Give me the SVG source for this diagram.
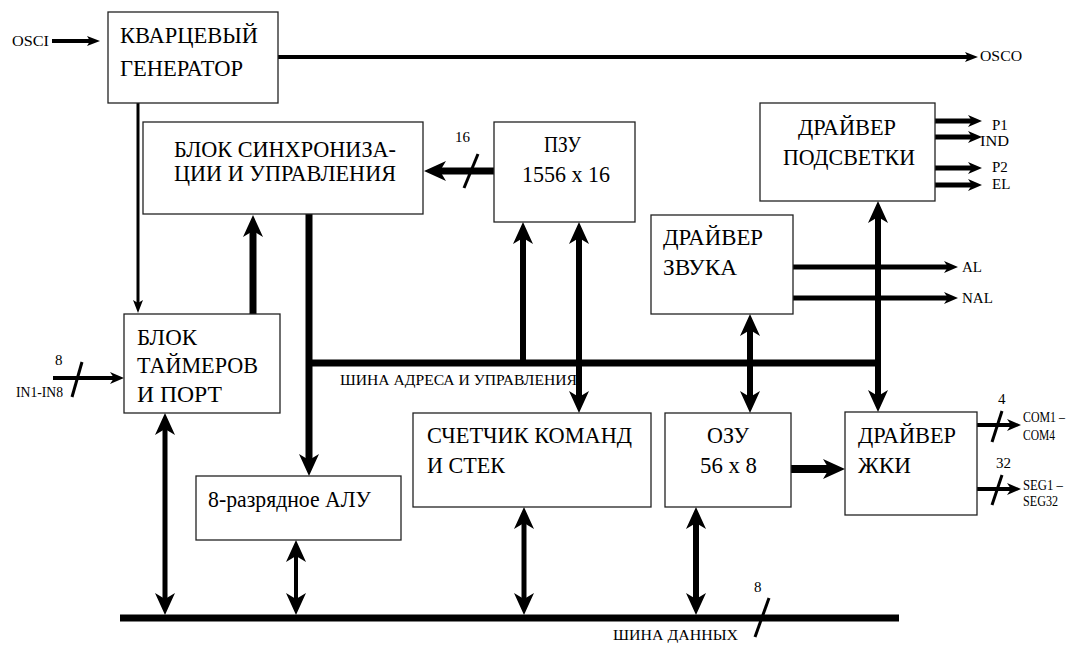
<svg xmlns="http://www.w3.org/2000/svg" width="1083" height="645" viewBox="0 0 1083 645">
<style>
.box{fill:#fff;stroke:#222;stroke-width:1.3}
text{font-family:'Liberation Serif','Times New Roman','Tinos','DejaVu Serif','Noto Serif','FreeSerif','Nimbus Roman','PT Serif',serif;fill:#000}
.t{font-size:24px}
.s{font-size:15px}
.ln{stroke:#000;fill:none}
.m{text-anchor:middle}
</style>
<defs>
<marker id="big" markerUnits="userSpaceOnUse" markerWidth="22" markerHeight="20" refX="6" refY="10" orient="auto-start-reverse" viewBox="0 0 22 20"><path d="M0,0 L22,10 L0,20 L6,10 z" fill="#000"/></marker>
<marker id="mid" markerUnits="userSpaceOnUse" markerWidth="14" markerHeight="12" refX="4" refY="6" orient="auto-start-reverse" viewBox="0 0 14 12"><path d="M0,0 L14,6 L0,12 L4,6 z" fill="#000"/></marker>
<marker id="sm" markerUnits="userSpaceOnUse" markerWidth="13" markerHeight="10" refX="3" refY="5" orient="auto-start-reverse" viewBox="0 0 13 10"><path d="M0,0 L13,5 L0,10 L3,5 z" fill="#000"/></marker>
</defs>
<rect width="1083" height="645" fill="#fff"/>

<g id="connectors">
<line class="ln" x1="52" y1="41" x2="90" y2="41" stroke-width="4" marker-end="url(#sm)"/>
<line class="ln" x1="278" y1="57" x2="968" y2="57" stroke-width="4" marker-end="url(#sm)"/>
<line class="ln" x1="138" y1="103" x2="138" y2="303" stroke-width="3" marker-end="url(#sm)"/>
<line class="ln" x1="494" y1="171" x2="440" y2="171" stroke-width="7" marker-end="url(#big)"/>
<line class="ln" x1="478" y1="154" x2="464" y2="188" stroke-width="3"/>
<line class="ln" x1="253" y1="314" x2="253" y2="231" stroke-width="7" marker-end="url(#big)"/>
<line class="ln" x1="309" y1="214" x2="309" y2="460" stroke-width="7" marker-end="url(#big)"/>
<line class="ln" x1="306" y1="363" x2="881" y2="363" stroke-width="7"/>
<line class="ln" x1="523" y1="366" x2="523" y2="238" stroke-width="6" marker-end="url(#big)"/>
<line class="ln" x1="579" y1="238" x2="579" y2="397" stroke-width="6" marker-start="url(#big)" marker-end="url(#big)"/>
<line class="ln" x1="750" y1="330" x2="750" y2="397" stroke-width="6" marker-start="url(#big)" marker-end="url(#big)"/>
<line class="ln" x1="878" y1="217" x2="878" y2="396" stroke-width="6" marker-start="url(#big)" marker-end="url(#big)"/>
<line class="ln" x1="935" y1="121" x2="972" y2="121" stroke-width="5" marker-end="url(#mid)"/>
<line class="ln" x1="935" y1="137" x2="972" y2="137" stroke-width="5" marker-end="url(#mid)"/>
<line class="ln" x1="935" y1="168" x2="972" y2="168" stroke-width="5" marker-end="url(#mid)"/>
<line class="ln" x1="935" y1="185" x2="972" y2="185" stroke-width="5" marker-end="url(#mid)"/>
<line class="ln" x1="793" y1="267" x2="948" y2="267" stroke-width="5" marker-end="url(#mid)"/>
<line class="ln" x1="793" y1="298" x2="948" y2="298" stroke-width="5" marker-end="url(#mid)"/>
<line class="ln" x1="53" y1="378" x2="114" y2="378" stroke-width="4" marker-end="url(#mid)"/>
<line class="ln" x1="82" y1="362" x2="72" y2="397" stroke-width="3"/>
<line class="ln" x1="791" y1="469" x2="829" y2="469" stroke-width="8" marker-end="url(#big)"/>
<line class="ln" x1="977" y1="425" x2="1011" y2="425" stroke-width="4" marker-end="url(#mid)"/>
<line class="ln" x1="1002" y1="411" x2="992" y2="442" stroke-width="3"/>
<line class="ln" x1="977" y1="489" x2="1011" y2="489" stroke-width="4" marker-end="url(#mid)"/>
<line class="ln" x1="1002" y1="475" x2="992" y2="505" stroke-width="3"/>
<line class="ln" x1="120" y1="618" x2="899" y2="618" stroke-width="7"/>
<line class="ln" x1="165" y1="429" x2="165" y2="599" stroke-width="5" marker-start="url(#big)" marker-end="url(#big)"/>
<line class="ln" x1="296" y1="556" x2="296" y2="599" stroke-width="4" marker-start="url(#big)" marker-end="url(#big)"/>
<line class="ln" x1="524" y1="523" x2="524" y2="599" stroke-width="5" marker-start="url(#big)" marker-end="url(#big)"/>
<line class="ln" x1="696" y1="523" x2="696" y2="599" stroke-width="6" marker-start="url(#big)" marker-end="url(#big)"/>
<line class="ln" x1="769" y1="598" x2="755" y2="637" stroke-width="3"/>
</g>

<g id="labels">
<text class="s" x="12" y="46" textLength="37" lengthAdjust="spacingAndGlyphs">OSCI</text>
<text class="s" x="980" y="61" textLength="42" lengthAdjust="spacingAndGlyphs">OSCO</text>
<text class="s" x="455" y="142">16</text>
<text class="s" x="992" y="130">P1</text>
<text class="s" x="980" y="146" textLength="29" lengthAdjust="spacingAndGlyphs">IND</text>
<text class="s" x="992" y="172">P2</text>
<text class="s" x="992" y="189">EL</text>
<text class="s" x="962" y="272">AL</text>
<text class="s" x="962" y="303">NAL</text>
<text class="s" x="55" y="365">8</text>
<text class="s" x="16" y="397" textLength="47" lengthAdjust="spacingAndGlyphs">IN1-IN8</text>
<text class="s" x="340" y="385" textLength="237" lengthAdjust="spacingAndGlyphs">ШИНА АДРЕСА И УПРАВЛЕНИЯ</text>
<text class="s" x="998" y="404">4</text>
<text class="s" x="1023" y="422" textLength="42" lengthAdjust="spacingAndGlyphs">COM1 –</text>
<text class="s" x="1023" y="440" textLength="32" lengthAdjust="spacingAndGlyphs">COM4</text>
<text class="s" x="996" y="468">32</text>
<text class="s" x="1023" y="490" textLength="40" lengthAdjust="spacingAndGlyphs">SEG1 –</text>
<text class="s" x="1023" y="506" textLength="35" lengthAdjust="spacingAndGlyphs">SEG32</text>
<text class="s" x="754" y="592">8</text>
<text class="s" x="613" y="640" textLength="125" lengthAdjust="spacingAndGlyphs">ШИНА ДАННЫХ</text>
</g>

<g id="osc"><rect class="box" x="108" y="12" width="170" height="91"/>
<text class="t" x="120" y="43" textLength="138" lengthAdjust="spacingAndGlyphs">КВАРЦЕВЫЙ</text><text class="t" x="120" y="76" textLength="123" lengthAdjust="spacingAndGlyphs">ГЕНЕРАТОР</text></g>

<g id="sync"><rect class="box" x="143" y="122" width="280" height="92"/>
<text class="t" x="174" y="157" textLength="222" lengthAdjust="spacingAndGlyphs">БЛОК СИНХРОНИЗА-</text><text class="t" x="174" y="181" textLength="222" lengthAdjust="spacingAndGlyphs">ЦИИ И УПРАВЛЕНИЯ</text></g>

<g id="rom"><rect class="box" x="494" y="122" width="141" height="100"/>
<text class="t" x="544" y="152" textLength="37" lengthAdjust="spacingAndGlyphs">ПЗУ</text><text class="t" x="522" y="182" textLength="88" lengthAdjust="spacingAndGlyphs">1556 x 16</text></g>

<g id="backlight"><rect class="box" x="760" y="103" width="175" height="98"/>
<text class="t" x="798" y="135" textLength="98" lengthAdjust="spacingAndGlyphs">ДРАЙВЕР</text><text class="t" x="783" y="165" textLength="132" lengthAdjust="spacingAndGlyphs">ПОДСВЕТКИ</text></g>

<g id="sound"><rect class="box" x="651" y="215" width="142" height="99"/>
<text class="t" x="663" y="245" textLength="100" lengthAdjust="spacingAndGlyphs">ДРАЙВЕР</text><text class="t" x="663" y="275" textLength="74" lengthAdjust="spacingAndGlyphs">ЗВУКА</text></g>

<g id="timers"><rect class="box" x="124" y="314" width="156" height="99"/>
<text class="t" x="137" y="345" textLength="60" lengthAdjust="spacingAndGlyphs">БЛОК</text><text class="t" x="137" y="373" textLength="121" lengthAdjust="spacingAndGlyphs">ТАЙМЕРОВ</text><text class="t" x="137" y="402" textLength="85" lengthAdjust="spacingAndGlyphs">И ПОРТ</text></g>

<g id="alu"><rect class="box" x="196" y="476" width="205" height="64"/>
<text class="t" x="208" y="507" textLength="163" lengthAdjust="spacingAndGlyphs">8-разрядное АЛУ</text></g>

<g id="pc"><rect class="box" x="413" y="413" width="238" height="94"/>
<text class="t" x="427" y="443" textLength="205" lengthAdjust="spacingAndGlyphs">СЧЕТЧИК КОМАНД</text><text class="t" x="427" y="473" textLength="78" lengthAdjust="spacingAndGlyphs">И СТЕК</text></g>

<g id="ram"><rect class="box" x="665" y="413" width="126" height="94"/>
<text class="t" x="707" y="443" textLength="42" lengthAdjust="spacingAndGlyphs">ОЗУ</text><text class="t" x="700" y="473" textLength="57" lengthAdjust="spacingAndGlyphs">56 x 8</text></g>

<g id="lcd"><rect class="box" x="845" y="412" width="132" height="103"/>
<text class="t" x="858" y="443" textLength="98" lengthAdjust="spacingAndGlyphs">ДРАЙВЕР</text><text class="t" x="858" y="473" textLength="53" lengthAdjust="spacingAndGlyphs">ЖКИ</text></g>
</svg>
